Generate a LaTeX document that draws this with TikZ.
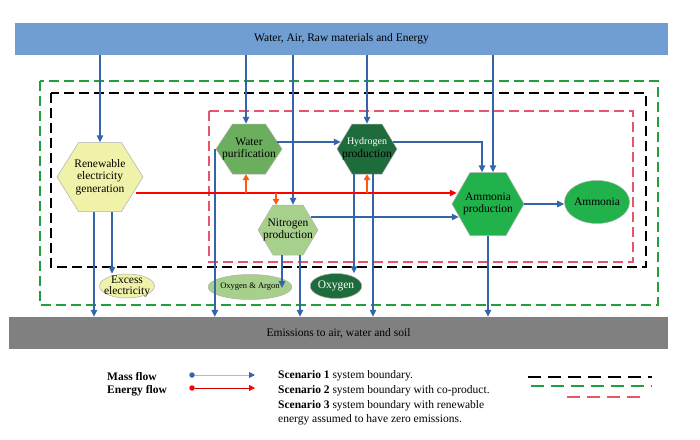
\documentclass[tikz,border=0pt]{standalone}
\usepackage{fontspec}
\setmainfont{Liberation Serif}
\usetikzlibrary{arrows.meta,shapes.geometric}
\definecolor{topbar}{HTML}{709ED2}
\definecolor{embar}{HTML}{808080}
\definecolor{flowblue}{HTML}{3465A8}
\definecolor{legblue}{HTML}{A9BCD6}
\definecolor{renfill}{HTML}{EFF2A8}
\definecolor{wpfill}{HTML}{6BAE5E}
\definecolor{hpfill}{HTML}{1E6B3C}
\definecolor{npfill}{HTML}{A8D08D}
\definecolor{apfill}{HTML}{22B24B}
\definecolor{bgreen}{HTML}{1FA03A}
\definecolor{bpink}{HTML}{E8546A}
\definecolor{eorange}{HTML}{FF5A0A}
\definecolor{hexline}{HTML}{B0B0B0}
\tikzset{
  flow/.style={draw=flowblue, line width=1.4pt, -{Triangle[length=7pt,width=6.5pt]}},
  eflow/.style={draw=red, line width=1.4pt, -{Triangle[length=7pt,width=6.5pt]}},
  oflow/.style={draw=eorange, line width=1.4pt, -{Triangle[length=6pt,width=6.5pt]}},
  bnd/.style={line width=1.4pt, dash pattern=on 10pt off 5pt},
  legbnd/.style={line width=1.5pt, dash pattern=on 13pt off 7pt},
  hexlbl/.style={align=center, inner sep=0pt, font=\fontsize{11.5}{12.5}\selectfont},
  oval/.style={ellipse, inner sep=0pt, draw=hexline, line width=0.5pt},
  bartxt/.style={inner sep=0pt, font=\fontsize{11.5}{13}\selectfont},
  legtxt/.style={anchor=west, inner sep=0pt, font=\fontsize{11.5}{13}\selectfont},
}
\newcommand{\hexa}[7]{%
  \filldraw[fill=#6, draw=hexline, line width=0.5pt]
    ({#2-#4/2},#3) -- ({#2-#4/4},{#3-#5/2}) -- ({#2+#4/4},{#3-#5/2}) --
    ({#2+#4/2},#3) -- ({#2+#4/4},{#3+#5/2}) -- ({#2-#4/4},{#3+#5/2}) -- cycle;
  \node[hexlbl, minimum width=#4pt, minimum height=#5pt] (#1) at (#2,#3) {#7};}
\begin{document}
\begin{tikzpicture}[x=1pt,y=-1pt]
\useasboundingbox (0,0) rectangle (700,439);
% bars
\node[bartxt, fill=topbar, minimum width=653pt, minimum height=32pt] (top) at (341.5,39) {Water, Air, Raw materials and Energy};
\node[bartxt, fill=embar, minimum width=659pt, minimum height=32pt] (em) at (338.5,333) {Emissions to air, water and soil};
% boundaries
\draw[bnd, bgreen] (40,81) rectangle (658,305);
\draw[bnd, black] (51,93) rectangle (646,267);
\draw[bnd, bpink] (209,111) rectangle (633,262);
% process hexagons
\hexa{ren}{100}{177}{86}{69}{renfill}{Renewable\\electricity\\generation}
\hexa{wp}{249}{149}{66}{50}{wpfill}{Water\\purification}
\hexa{hp}{367}{149}{60}{50}{hpfill}{\fontsize{10}{11.5}\selectfont\color{white}Hydrogen\\production}
\hexa{np}{288}{230}{60}{50}{npfill}{Nitrogen\\production}
\hexa{ap}{488}{204}{72}{63}{apfill}{Ammonia\\production}
% products
\node[oval, fill=apfill, minimum width=60pt, minimum height=43pt, font=\fontsize{11.5}{12.5}\selectfont] (amm) at (597,202) {Ammonia};
\node[oval, fill=renfill, minimum width=55pt, minimum height=24pt] (exc) at (127,286) {};
\node[hexlbl, font=\fontsize{11.5}{11}\selectfont] (exct) at (exc) {Excess\\electricity};
\node[oval, fill=npfill, minimum width=62pt, minimum height=25pt, font=\fontsize{8.5}{10}\selectfont] (oa) at (250,287) {Oxygen \& Argon};
\node[oval, fill=hpfill, minimum width=50pt, minimum height=25pt, text=white, font=\fontsize{11.5}{12.5}\selectfont] (ox) at (336,286) {Oxygen};
% inputs from top
\draw[flow] (ren.north |- top.south) -- (ren.north);
\draw[flow] ([xshift=-3pt]wp.north |- top.south) -- ([xshift=-3pt]wp.north);
\draw[flow] ([xshift=5pt]np.north |- top.south) -- ([xshift=5pt]np.north);
\draw[flow] (hp.north |- top.south) -- (hp.north);
\draw[flow] ([xshift=5pt]ap.north |- top.south) -- ([xshift=5pt]ap.north);
% mass flows between processes
\draw[flow] ([xshift=-5pt,yshift=7pt]wp.east) -- ([xshift=4pt,yshift=7pt]hp.west);
\draw[flow] ([xshift=-4pt,yshift=7pt]hp.east) -| ([xshift=-6pt]ap.north);
\draw[flow] ([xshift=-7pt,yshift=13pt]np.east) -- ([xshift=7pt,yshift=-13pt]ap.west);
\draw[flow] (ap.east) -- (ap.east -| amm.west);
% outputs down
\draw[flow] ([xshift=-6pt]ren.south) -- ([xshift=-6pt]ren.south |- em.north);
\draw[flow] ([xshift=12pt]ren.south) -- ([xshift=12pt]ren.south |- exc.north);
\draw[flow] ([xshift=-1pt]wp.west) -- ([xshift=-1pt]wp.west |- em.north);
\draw[flow, shorten >=-1pt] ([xshift=-6pt]np.south) -- ([xshift=-6pt]np.south |- oa.center);
\draw[flow] ([xshift=12pt]np.south) -- ([xshift=12pt]np.south |- em.north);
\draw[flow] ([xshift=-13pt]hp.south) -- ([xshift=-13pt]hp.south |- ox.north);
\draw[flow] ([xshift=6pt]hp.south) -- ([xshift=6pt]hp.south |- em.north);
\draw[flow] (ap.south) -- (ap.south |- em.north);
% energy flows
\coordinate (rl) at ([xshift=-7pt,yshift=-16pt]ren.east);
\draw[eflow] (rl) -- ([xshift=5pt,yshift=11pt]ap.west);
\draw[oflow] ([xshift=-3pt]wp.south |- rl) -- ([xshift=-3pt]wp.south);
\draw[oflow] (hp.south |- rl) -- (hp.south);
\draw[oflow] ([xshift=-12pt]np.north |- rl) -- ([xshift=-12pt]np.north);
% legend
\node[legtxt, font=\fontsize{11.5}{13}\selectfont\bfseries] (lmass) at (107,376) {Mass flow};
\node[legtxt, font=\fontsize{11.5}{13}\selectfont\bfseries] (lenergy) at (107,391) {Energy flow};
\node[circle, fill=flowblue, inner sep=0pt, minimum size=5.5pt] (mdot) at (192,375) {};
\coordinate (mend) at (255,375);
\draw[draw=legblue, line width=1pt, -{Triangle[length=6pt,width=6pt,color=flowblue]}] (mdot) -- (mend);
\node[circle, fill=red, inner sep=0pt, minimum size=5.5pt] (edot) at (192,388) {};
\coordinate (eend) at (255,388);
\draw[draw=red!80!black, line width=0.8pt, -{Triangle[length=6pt,width=6pt,color=red]}] (edot) -- (eend);
\node[legtxt] (s1) at (278,376) {\textbf{Scenario 1} system boundary.};
\node[legtxt] (s2) at (278,391) {\textbf{Scenario 2} system boundary with co-product.};
\node[legtxt] (s3) at (278,406) {\textbf{Scenario 3} system boundary with renewable};
\node[legtxt] (s4) at (278,420) {energy assumed to have zero emissions.};
\coordinate (k1a) at (528,377); \coordinate (k1b) at (652,377);
\coordinate (k2a) at (531,386); \coordinate (k2b) at (652,386);
\coordinate (k3a) at (567,397); \coordinate (k3b) at (647,397);
\draw[legbnd, black] (k1a) -- (k1b);
\draw[legbnd, bgreen] (k2a) -- (k2b);
\draw[legbnd, bpink] (k3a) -- (k3b);
\end{tikzpicture}
\end{document}
